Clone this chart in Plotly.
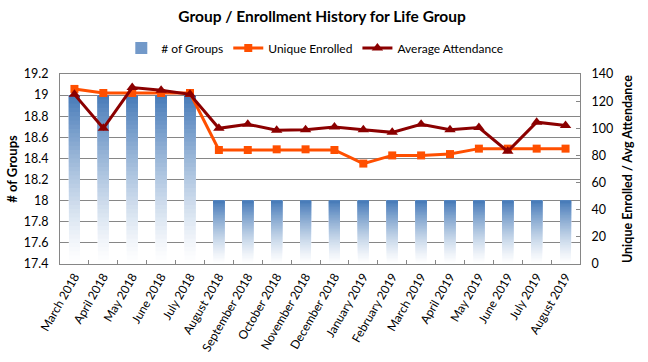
import plotly.graph_objects as go

months = ["March 2018", "April 2018", "May 2018", "June 2018", "July 2018", "August 2018",
          "September 2018", "October 2018", "November 2018", "December 2018", "January 2019",
          "February 2019", "March 2019", "April 2019", "May 2019", "June 2019", "July 2019",
          "August 2019"]
groups = [19, 19, 19, 19, 19, 18, 18, 18, 18, 18, 18, 18, 18, 18, 18, 18, 18, 18]
unique_enrolled = [129, 126, 126, 126, 126, 84, 84, 84.5, 84.5, 84, 74, 80, 80, 81, 85, 85, 85, 85]
avg_attendance = [125, 100, 130, 128, 125, 100, 103, 98.5, 99, 101, 99, 97, 103, 99, 100.5, 83, 104.5, 102]

y_left_min, y_left_max = 17.4, 19.2
FONT = "Lato"

fig = go.Figure()

# Gradient bars: overlapping bars, each starting a bit higher, colour fading to white at the bottom
N = 40
top = (70, 122, 184)
bot = (255, 255, 255)
for i in range(N):
    f0 = i / N
    tt = ((i + 0.5) / N) ** 1.3
    col = tuple(round(bot[k] + (top[k] - bot[k]) * tt) for k in range(3))
    base = [y_left_min + (g - y_left_min) * f0 for g in groups]
    h = [g - b for g, b in zip(groups, base)]
    fig.add_trace(go.Bar(
        x=months, y=h, base=base, width=0.38,
        marker=dict(color="rgb(%d,%d,%d)" % col, line=dict(width=0)),
        name="# of Groups", showlegend=(i == int(N * 0.8)), legendrank=1,
        hoverinfo="skip", yaxis="y"))

fig.add_trace(go.Scatter(
    x=months, y=unique_enrolled, name="Unique Enrolled", yaxis="y2", legendrank=2,
    mode="lines+markers",
    line=dict(color="#FF4F00", width=3),
    marker=dict(symbol="square", size=8, color="#FF4F00")))

fig.add_trace(go.Scatter(
    x=months, y=avg_attendance, name="Average Attendance", yaxis="y2", legendrank=3,
    mode="lines+markers",
    line=dict(color="#8B0000", width=3),
    marker=dict(symbol="triangle-up", size=10, color="#8B0000")))

fig.update_layout(
    width=648, height=362,
    margin=dict(l=60, r=68, t=74, b=98, autoexpand=False),
    paper_bgcolor="white", plot_bgcolor="white",
    font=dict(family=FONT, size=11, color="black"),
    barmode="overlay",
    title=dict(text="<b>Group / Enrollment History for Life Group</b>",
               x=0.497, xanchor="center", y=0.953, yanchor="middle",
               font=dict(family=FONT, size=15.5, color="black")),
    legend=dict(orientation="h", x=0.49, xanchor="center", y=1.137, yanchor="middle",
                font=dict(family=FONT, size=12), traceorder="normal",
                itemwidth=30, bgcolor="rgba(0,0,0,0)"),
    xaxis=dict(type="category", range=[-0.5, len(months) - 0.5], autorange=False,
               tickangle=-60, showline=True, linecolor="#868686", linewidth=1,
               mirror=True, ticks="inside", ticklen=4, tickcolor="#868686",
               tickson="boundaries", showgrid=False, automargin=False,
               tickfont=dict(family=FONT, size=12)),
    yaxis=dict(range=[y_left_min, y_left_max], dtick=0.2, tick0=17.4,
               showgrid=True, gridcolor="#868686", gridwidth=1,
               showline=True, linecolor="#868686", linewidth=1,
               ticks="outside", ticklen=8, tickcolor="rgba(0,0,0,0)",
               zeroline=False, automargin=False,
               title=dict(text="<b># of Groups</b>", font=dict(family=FONT, size=13), standoff=3),
               tickfont=dict(family=FONT, size=12.5)),
    yaxis2=dict(range=[0, 140], dtick=20, overlaying="y", side="right",
                showgrid=False, zeroline=False, showline=True, linecolor="#868686",
                ticks="inside", ticklen=4, tickcolor="#868686", automargin=False,
                ticklabelstandoff=8,
                title=dict(text="<b>Unique Enrolled / Avg Attendance</b>",
                           font=dict(family=FONT, size=12.5), standoff=10),
                tickfont=dict(family=FONT, size=12.5)),
)

fig.write_html("out.html", config={"displayModeBar": False},
               post_script="document.body.style.margin='0px';")
